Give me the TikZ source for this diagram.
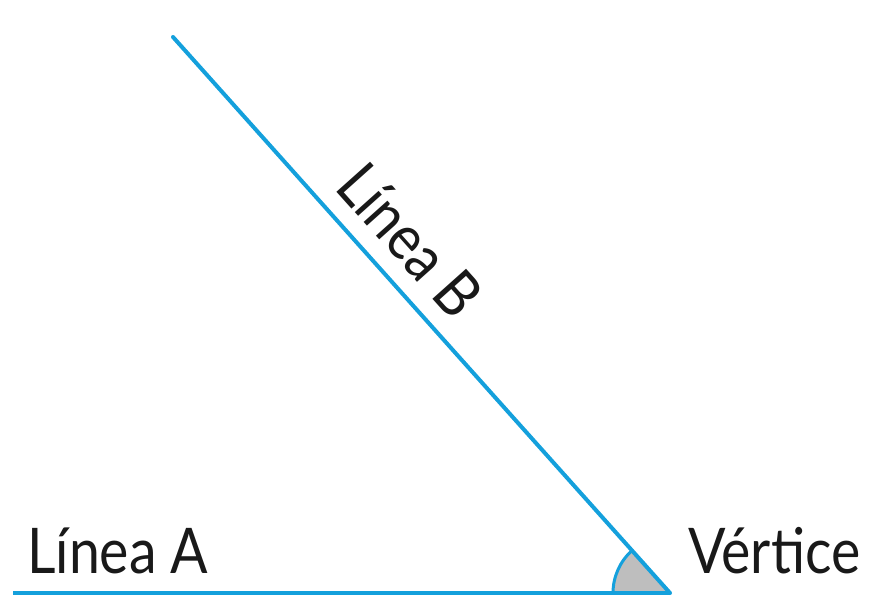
\documentclass[tikz,border=0pt]{standalone}
\usepackage{fontspec}
\setmainfont{Lato}[FakeStretch=0.88]
\usetikzlibrary{calc}
\definecolor{lineblue}{RGB}{20,160,220}
\definecolor{anglegray}{RGB}{190,190,190}
\begin{document}
\begin{tikzpicture}[x=1pt,y=-1pt,
  ray/.style={draw=lineblue,line width=4pt},
  lbl/.style={inner sep=0pt,font=\fontsize{63}{63}\selectfont,text=black!90}]
\useasboundingbox (0,0) rectangle (871,602);
\coordinate (V) at (670,593);
\coordinate (A) at (13,593);
\coordinate (B) at (173,37);
\fill[anglegray] (V) -- ++(180:57) arc[start angle=180,end angle=228.2,radius=57] -- cycle;
\draw[lineblue,line width=3pt] ($(V)+(180:57)$) arc[start angle=180,end angle=228.2,radius=57];
\draw[ray] (A) -- (V);
\draw[ray,line cap=round] (B) -- (V);
\node[lbl,anchor=base west] (la) at (27,573) {Línea A};
\node[lbl,anchor=base west] (vt) at (688,573) {Vértice};
\node[lbl,anchor=south,rotate=-48.2] (lb) at ($(B)!0.415!(V)+(14,-12)$) {Línea B};
\end{tikzpicture}
\end{document}
